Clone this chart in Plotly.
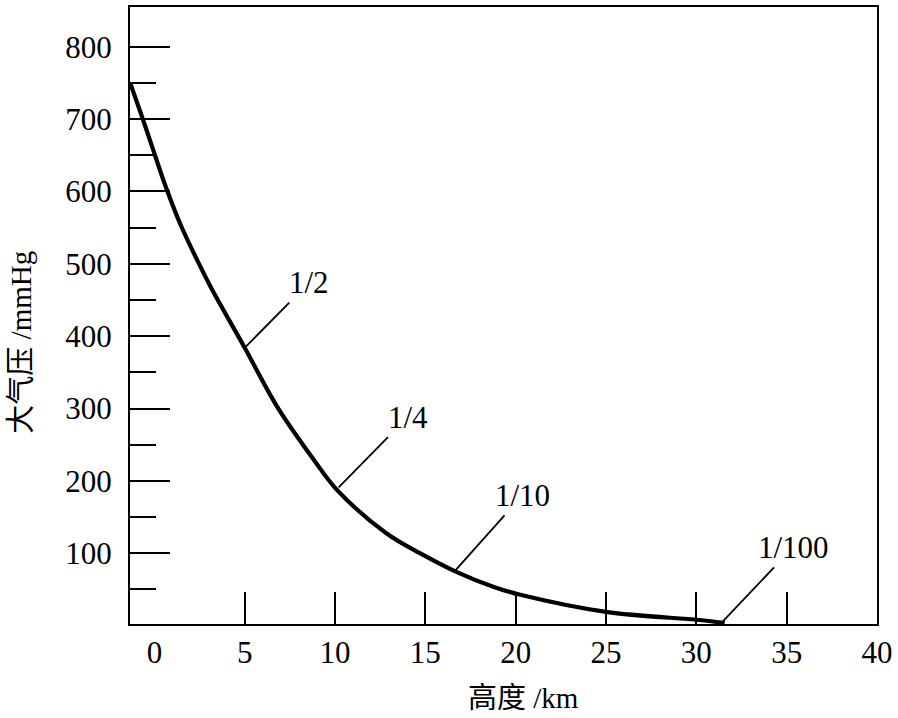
import plotly.graph_objects as go

# Curve (height km, pressure mmHg)
height_km = [-1.34, -0.68, -0.14, 0.68, 1.45, 2.43, 3.14, 5.0, 6.81, 8.83,
             10.09, 12.82, 14.85, 16.65, 18.83, 20.2, 25.0, 30.15, 31.57]
pressure_mmHg = [750, 703, 663, 603, 554, 502, 467, 384, 302, 229,
                 188, 128, 98, 75, 53, 43, 19, 7.7, 3.6]

# Fraction labels: curve point they mark and where the label text sits
frac_labels = ["1/2", "1/4", "1/10", "1/100"]
frac_point_x = [5.0, 10.2, 16.65, 31.4]
frac_point_y = [384, 191, 76, 4]
frac_text_x = [8.56, 14.02, 20.37, 35.35]
frac_text_y = [474, 288, 180, 108]

x_tick_vals = [0, 5, 10, 15, 20, 25, 30, 35, 40]
x_tick_text = ["0", "5", "10", "15", "20", "25", "30", "35", "40"]
x_mark_vals = [5, 10, 15, 20, 25, 30, 35]
y_tick_vals = [100, 200, 300, 400, 500, 600, 700, 800]
y_tick_text = ["100", "200", "300", "400", "500", "600", "700", "800"]
y_minor_vals = [50, 150, 250, 350, 450, 550, 650, 750]

x_title = "高度 /km"
y_title = "大气压 /mmHg"

FONT = "Liberation Serif, Times New Roman, Noto Sans CJK SC, serif"

fig = go.Figure()
fig.add_trace(go.Scatter(
    x=height_km, y=pressure_mmHg, mode="lines",
    line=dict(color="black", width=4.2, shape="spline", smoothing=1.0),
    showlegend=False, hoverinfo="skip",
))

annotations = []
for lab, px, py, tx, ty in zip(frac_labels, frac_point_x, frac_point_y, frac_text_x, frac_text_y):
    annotations.append(dict(
        x=px, y=py, xref="x", yref="y",
        ax=tx, ay=ty, axref="x", ayref="y",
        text=lab, showarrow=True, arrowhead=0, arrowwidth=1.8,
        arrowcolor="black", standoff=0, borderpad=2,
        font=dict(family=FONT, size=31, color="black"),
    ))

annotations.append(dict(
    x=0.527, y=0, xref="paper", yref="paper", yshift=-74,
    text=x_title, showarrow=False, xanchor="center", yanchor="middle",
    font=dict(family=FONT, size=29, color="black"),
))
annotations.append(dict(
    x=0, y=0.456, xref="paper", yref="paper", xshift=-109,
    text=y_title, showarrow=False, textangle=-90,
    xanchor="center", yanchor="middle",
    font=dict(family=FONT, size=29, color="black"),
))

fig.update_layout(
    width=898, height=718,
    margin=dict(l=130, r=15, t=5, b=94),
    paper_bgcolor="white", plot_bgcolor="white",
    font=dict(family=FONT, size=31, color="black"),
    annotations=annotations,
    xaxis=dict(
        range=[-1.35, 40.0], showgrid=False, zeroline=False,
        showline=True, linecolor="black", linewidth=2, mirror=True,
        tickmode="array", tickvals=x_tick_vals, ticktext=x_tick_text,
        ticks="", ticklabelstandoff=0, ticklabeloverflow="allow",
        tickfont=dict(family=FONT, size=31, color="black"),
        minor=dict(tickmode="array", tickvals=x_mark_vals, ticks="inside",
                   ticklen=32, tickwidth=2, tickcolor="black", showgrid=False),
    ),
    yaxis=dict(
        range=[2.2, 855], showgrid=False, zeroline=False,
        showline=True, linecolor="black", linewidth=2, mirror=True,
        tickmode="array", tickvals=y_tick_vals, ticktext=y_tick_text,
        ticks="inside", ticklen=40, tickwidth=2, tickcolor="black",
        ticklabelstandoff=10,
        tickfont=dict(family=FONT, size=31, color="black"),
        minor=dict(tickmode="array", tickvals=y_minor_vals, ticks="inside",
                   ticklen=26, tickwidth=1.6, tickcolor="black", showgrid=False),
    ),
)

fig.write_html("out.html", config={"displayModeBar": False},
               post_script="document.body.style.margin='0';")
